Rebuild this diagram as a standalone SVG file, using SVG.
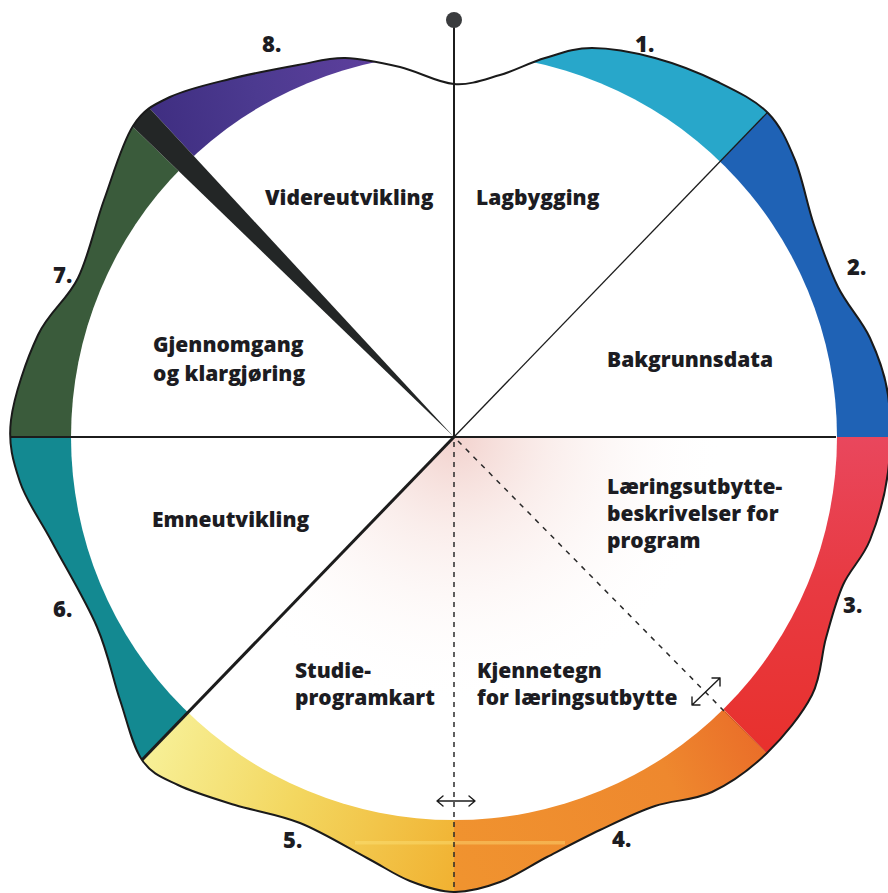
<svg xmlns="http://www.w3.org/2000/svg" width="888" height="893" viewBox="0 0 888 893">
<style>
.lbl{font-family:"Open Sans","Liberation Sans",sans-serif;font-weight:800;font-size:21px;fill:#1c1c22}
.num{font-family:"Open Sans","Liberation Sans",sans-serif;font-weight:800;font-size:22px;fill:#1c1c22}
.ln{stroke:#1c1c1c;fill:none}
.dash{stroke:#2a2a2a;stroke-width:1.5;fill:none}
.arr{stroke:#1c1c1c;stroke-width:1.4;fill:none;stroke-linecap:round;stroke-linejoin:round}
</style>
<defs>
<clipPath id="clipOutline">
<path d="M454,84 C470.7,85.3 484.8,79.3 500,75 C515.2,70.7 529.7,62.5 545,58 C560.3,53.5 573.7,48 592,48 C610.3,48 634,52.3 655,58 C676,63.7 699.2,72.8 718,82 C736.8,91.2 755.2,100 768,113 C780.8,126 787.3,141.3 795,160 C802.7,178.7 806.8,203.8 814,225 C821.2,246.2 828.7,268.2 838,287 C847.3,305.8 861.7,320 870,338 C878.3,356 885,372.7 888,395 C891,417.3 891,447.8 888,472 C885,496.2 877.5,521.2 870,540 C862.5,558.8 850.3,568.7 843,585 C835.7,601.3 831.2,619.7 826,638 C820.8,656.3 821.8,675.8 812,695 C802.2,714.2 783.7,736.8 767,753 C750.3,769.2 730.7,783.2 712,792 C693.3,800.8 673.7,799.7 655,806 C636.3,812.3 618,821.5 600,830 C582,838.5 563.7,848.3 547,857 C530.3,865.7 515.5,876.2 500,882 C484.5,887.8 469,892.2 454,892 C439,891.8 424.5,886.7 410,881 C395.5,875.3 385.3,867.7 367,858 C348.7,848.3 322,831.8 300,823 C278,814.2 255.3,811.3 235,805 C214.7,798.7 193.5,792.5 178,785 C162.5,777.5 151.7,774.2 142,760 C132.3,745.8 127.5,722.2 120,700 C112.5,677.8 108.3,653.3 97,627 C85.7,600.7 64.8,566.2 52,542 C39.2,517.8 26.8,502.3 20,482 C13.2,461.7 8,444.5 11,420 C14,395.5 26.8,358.7 38,335 C49.2,311.3 67,300.5 78,278 C89,255.5 94.8,225.3 104,200 C113.2,174.7 122,143.2 133,126 C144,108.8 153.8,104.8 170,97 C186.2,89.2 208.7,84.3 230,79 C251.3,73.7 278.8,68.5 298,65 C317.2,61.5 328,57.7 345,58 C362,58.3 381.8,62.7 400,67 C418.2,71.3 437.3,82.7 454,84 Z"/>
</clipPath>
<linearGradient id="gRed" gradientUnits="userSpaceOnUse" x1="0" y1="437" x2="0" y2="760">
<stop offset="0" stop-color="#e9475d"/><stop offset="0.45" stop-color="#e83a42"/><stop offset="1" stop-color="#e8302c"/>
</linearGradient>
<linearGradient id="gOrange" gradientUnits="userSpaceOnUse" x1="760" y1="740" x2="460" y2="880">
<stop offset="0" stop-color="#ea6e29"/><stop offset="0.3" stop-color="#ee882e"/><stop offset="1" stop-color="#f0932f"/>
</linearGradient>
<linearGradient id="gYellow" gradientUnits="userSpaceOnUse" x1="150" y1="760" x2="454" y2="880">
<stop offset="0" stop-color="#f7ef95"/><stop offset="0.45" stop-color="#f3d760"/><stop offset="1" stop-color="#f1b232"/>
</linearGradient>
<linearGradient id="gPurple" gradientUnits="userSpaceOnUse" x1="140" y1="110" x2="370" y2="60">
<stop offset="0" stop-color="#3e2d80"/><stop offset="0.5" stop-color="#4c3a90"/><stop offset="1" stop-color="#5d3f9c"/>
</linearGradient>
<radialGradient id="gPink" gradientUnits="userSpaceOnUse" cx="454" cy="437" r="270">
<stop offset="0" stop-color="#efc6c0" stop-opacity="0.8"/><stop offset="0.35" stop-color="#f4d8d3" stop-opacity="0.45"/><stop offset="1" stop-color="#ffffff" stop-opacity="0"/>
</radialGradient>
</defs>
<rect width="888" height="893" fill="#ffffff"/>

<g clip-path="url(#clipOutline)">
<g id="band1"><polygon points="454,437 454,-183 884.7,-9" fill="#28a7ca"/></g>
<g id="band2"><polygon points="454,437 884.7,-9 1074,437" fill="#1f62b5"/></g>
<g id="band3"><polygon points="454,437 1074,437 890.1,877.7" fill="url(#gRed)"/></g>
<g id="band4"><polygon points="454,437 890.1,877.7 454,1057" fill="url(#gOrange)"/></g>
<g id="band5"><polygon points="454,437 454,1057 23.3,883" fill="url(#gYellow)"/></g>
<g id="band6"><polygon points="454,437 23.3,883 -166,437" fill="#138991"/></g>
<g id="band7"><polygon points="454,437 -166,437 8,6.3" fill="#3a5b3b"/></g>
<g id="band8"><polygon points="454,437 32.8,-17.9 454,-183" fill="url(#gPurple)"/></g>
<rect x="355" y="841" width="210" height="3.5" fill="#ffe680" opacity="0.4"/>
</g>

<circle cx="454" cy="437" r="383" fill="#ffffff"/>
<polygon points="454,437 1074,437 890.1,877.7 454,1057 23.3,883" fill="url(#gPink)"/>
<g clip-path="url(#clipOutline)">
<g id="wedge"><polygon points="454,437 8,6.3 32.8,-17.9" fill="#232626"/></g>
</g>

<g id="connectors">
<line class="ln" x1="454" y1="20" x2="454" y2="437" stroke-width="2"/>
<circle cx="454" cy="20" r="8" fill="#3a3c3e"/>
<line class="ln" x1="454" y1="437" x2="767.3" y2="112.6" stroke-width="1.3"/>
<line class="ln" x1="11" y1="437" x2="836" y2="437" stroke-width="2"/>
<line class="ln" x1="454" y1="437" x2="142" y2="760" stroke-width="3"/>
<line x1="725" y1="712" x2="767" y2="753" stroke="#a8301e" stroke-width="1" opacity="0.45"/>
<line class="dash" x1="454" y1="442" x2="454" y2="892" stroke-dasharray="5 5"/>
<line class="dash" x1="458" y1="441" x2="725" y2="712" stroke-dasharray="5 6"/>
<path class="arr" d="M437,801 L475,801 M443,796 L437,801 L443,806 M469,796 L475,801 L469,806"/>
<path class="arr" d="M692,705 L720,678 M712,678 L720,678 L720,686 M700,705 L692,705 L692,697"/>
<path d="M454,84 C470.7,85.3 484.8,79.3 500,75 C515.2,70.7 529.7,62.5 545,58 C560.3,53.5 573.7,48 592,48 C610.3,48 634,52.3 655,58 C676,63.7 699.2,72.8 718,82 C736.8,91.2 755.2,100 768,113 C780.8,126 787.3,141.3 795,160 C802.7,178.7 806.8,203.8 814,225 C821.2,246.2 828.7,268.2 838,287 C847.3,305.8 861.7,320 870,338 C878.3,356 885,372.7 888,395 C891,417.3 891,447.8 888,472 C885,496.2 877.5,521.2 870,540 C862.5,558.8 850.3,568.7 843,585 C835.7,601.3 831.2,619.7 826,638 C820.8,656.3 821.8,675.8 812,695 C802.2,714.2 783.7,736.8 767,753 C750.3,769.2 730.7,783.2 712,792 C693.3,800.8 673.7,799.7 655,806 C636.3,812.3 618,821.5 600,830 C582,838.5 563.7,848.3 547,857 C530.3,865.7 515.5,876.2 500,882 C484.5,887.8 469,892.2 454,892 C439,891.8 424.5,886.7 410,881 C395.5,875.3 385.3,867.7 367,858 C348.7,848.3 322,831.8 300,823 C278,814.2 255.3,811.3 235,805 C214.7,798.7 193.5,792.5 178,785 C162.5,777.5 151.7,774.2 142,760 C132.3,745.8 127.5,722.2 120,700 C112.5,677.8 108.3,653.3 97,627 C85.7,600.7 64.8,566.2 52,542 C39.2,517.8 26.8,502.3 20,482 C13.2,461.7 8,444.5 11,420 C14,395.5 26.8,358.7 38,335 C49.2,311.3 67,300.5 78,278 C89,255.5 94.8,225.3 104,200 C113.2,174.7 122,143.2 133,126 C144,108.8 153.8,104.8 170,97 C186.2,89.2 208.7,84.3 230,79 C251.3,73.7 278.8,68.5 298,65 C317.2,61.5 328,57.7 345,58 C362,58.3 381.8,62.7 400,67 C418.2,71.3 437.3,82.7 454,84 Z" fill="none" stroke="#1a1a1a" stroke-width="2"/>
</g>

<g id="label-videreutvikling"><text class="lbl" x="265" y="205">Videreutvikling</text></g>
<g id="label-lagbygging"><text class="lbl" x="476" y="205">Lagbygging</text></g>
<g id="label-bakgrunnsdata"><text class="lbl" x="607" y="367">Bakgrunnsdata</text></g>
<g id="label-gjennomgang"><text class="lbl" x="153" y="352">Gjennomgang</text><text class="lbl" x="153" y="381">og klargjøring</text></g>
<g id="label-emneutvikling"><text class="lbl" x="152" y="527">Emneutvikling</text></g>
<g id="label-laeringsutbytte"><text class="lbl" x="607" y="494">Læringsutbytte-</text><text class="lbl" x="607" y="521">beskrivelser for</text><text class="lbl" x="607" y="548">program</text></g>
<g id="label-studieprogramkart"><text class="lbl" x="295" y="678">Studie-</text><text class="lbl" x="295" y="705">programkart</text></g>
<g id="label-kjennetegn"><text class="lbl" x="477" y="678">Kjennetegn</text><text class="lbl" x="477" y="705">for læringsutbytte</text></g>

<g id="numbers">
<text class="num" x="635" y="52">1.</text>
<text class="num" x="847" y="275">2.</text>
<text class="num" x="843" y="613">3.</text>
<text class="num" x="612" y="847">4.</text>
<text class="num" x="283" y="848">5.</text>
<text class="num" x="53" y="617">6.</text>
<text class="num" x="53" y="283">7.</text>
<text class="num" x="262" y="52">8.</text>
</g>
</svg>
